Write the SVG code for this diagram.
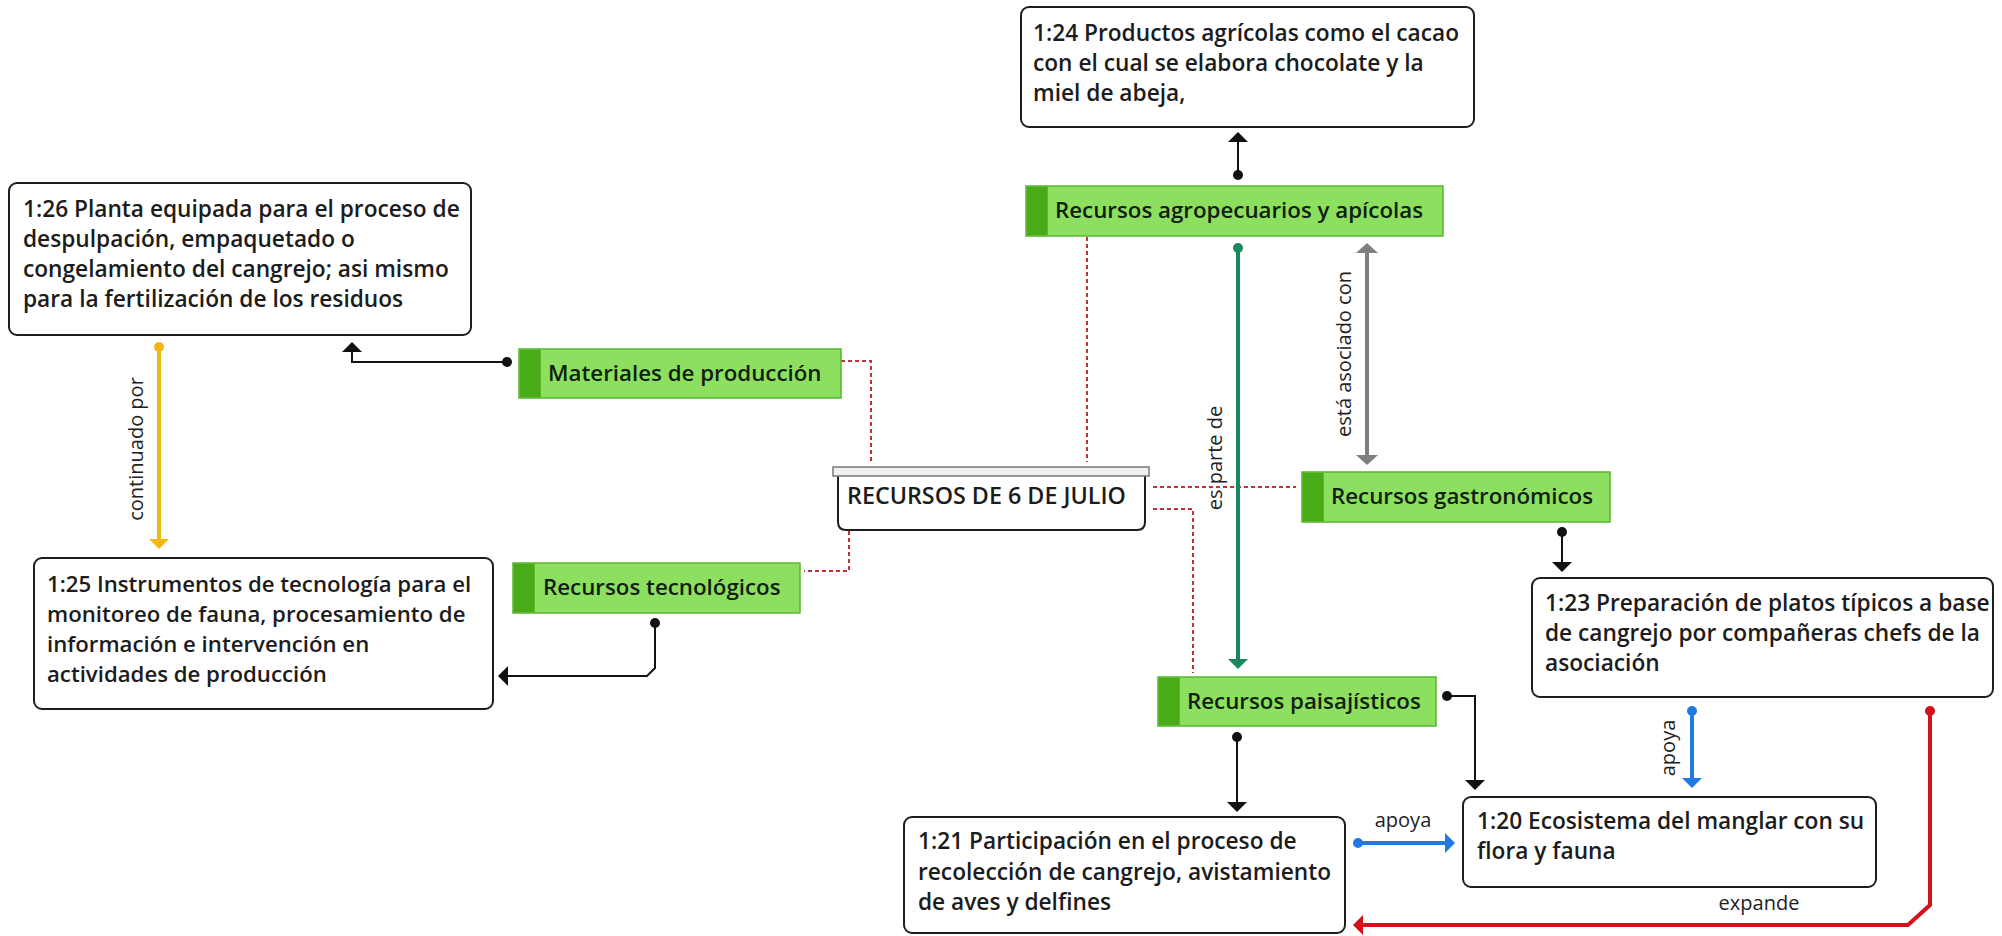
<svg xmlns="http://www.w3.org/2000/svg" width="2002" height="936" viewBox="0 0 2002 936">
<style>
.bg{fill:#ffffff}
.box{fill:#ffffff;stroke:#1e1e1e;stroke-width:2}
.btxt{font-family:"Open Sans","Noto Sans","Liberation Sans",sans-serif;font-size:22.7px;font-weight:600;fill:#1c1c1c}
.node{fill:#8de05f;stroke:#58b532;stroke-width:1.5}
.bar{fill:#4aab18}
.ntxt{font-family:"Open Sans","Noto Sans","Liberation Sans",sans-serif;font-size:22.3px;font-weight:600;fill:#102010}
.lbl{font-family:"Open Sans","Noto Sans","Liberation Sans",sans-serif;font-size:20px;font-weight:400;fill:#222}
.dot{fill:none;stroke:#c2323a;stroke-width:2;stroke-dasharray:4 3}
.c{fill:none;stroke-width:2}
.k{stroke:#111}
.g{stroke:#17895c;stroke-width:4}
.gr{stroke:#7f7f7f;stroke-width:4}
.y{stroke:#f3b713;stroke-width:4}
.b{stroke:#1f7be3;stroke-width:4}
.r{stroke:#d2111c;stroke-width:4}
</style>
<defs>
<marker id="ak" viewBox="0 0 10 20" refX="0" refY="10" markerWidth="10" markerHeight="20" markerUnits="userSpaceOnUse" orient="auto"><path d="M0,0 L10,10 L0,20 Z" fill="#111"/></marker>
<marker id="ag" viewBox="0 0 10 20" refX="0" refY="10" markerWidth="10" markerHeight="20" markerUnits="userSpaceOnUse" orient="auto"><path d="M0,0 L10,10 L0,20 Z" fill="#17895c"/></marker>
<marker id="agr" viewBox="0 0 10 22" refX="0" refY="11" markerWidth="10" markerHeight="22" markerUnits="userSpaceOnUse" orient="auto-start-reverse"><path d="M0,0 L10,11 L0,22 Z" fill="#7f7f7f"/></marker>
<marker id="ay" viewBox="0 0 10 20" refX="0" refY="10" markerWidth="10" markerHeight="20" markerUnits="userSpaceOnUse" orient="auto"><path d="M0,0 L10,10 L0,20 Z" fill="#f3b713"/></marker>
<marker id="ab" viewBox="0 0 10 20" refX="0" refY="10" markerWidth="10" markerHeight="20" markerUnits="userSpaceOnUse" orient="auto"><path d="M0,0 L10,10 L0,20 Z" fill="#1f7be3"/></marker>
<marker id="ar" viewBox="0 0 10 20" refX="0" refY="10" markerWidth="10" markerHeight="20" markerUnits="userSpaceOnUse" orient="auto"><path d="M0,0 L10,10 L0,20 Z" fill="#d2111c"/></marker>
<marker id="dk" viewBox="0 0 10 10" refX="5" refY="5" markerWidth="10" markerHeight="10" markerUnits="userSpaceOnUse"><circle cx="5" cy="5" r="5" fill="#111"/></marker>
<marker id="dg" viewBox="0 0 10 10" refX="5" refY="5" markerWidth="10" markerHeight="10" markerUnits="userSpaceOnUse"><circle cx="5" cy="5" r="5" fill="#17895c"/></marker>
<marker id="dy" viewBox="0 0 10 10" refX="5" refY="5" markerWidth="10" markerHeight="10" markerUnits="userSpaceOnUse"><circle cx="5" cy="5" r="5" fill="#f3b713"/></marker>
<marker id="db" viewBox="0 0 10 10" refX="5" refY="5" markerWidth="10" markerHeight="10" markerUnits="userSpaceOnUse"><circle cx="5" cy="5" r="5" fill="#1f7be3"/></marker>
<marker id="dr" viewBox="0 0 10 10" refX="5" refY="5" markerWidth="10" markerHeight="10" markerUnits="userSpaceOnUse"><circle cx="5" cy="5" r="5" fill="#d2111c"/></marker>
</defs>
<rect class="bg" x="0" y="0" width="2002" height="936"/>

<g id="connectors">
<path class="dot" d="M841,361 H871 V462"/>
<path class="dot" d="M1087,237 V462"/>
<path class="dot" d="M1153,487 H1296"/>
<path class="dot" d="M1153,509 H1193 V673"/>
<path class="dot" d="M849,531 V571 H804"/>
<path class="c k" d="M1238,175 V142" marker-start="url(#dk)" marker-end="url(#ak)"/>
<path class="c k" d="M507,362 H352 V352" marker-start="url(#dk)" marker-end="url(#ak)"/>
<path class="c k" d="M655,623 V668 L647,676 H508" marker-start="url(#dk)" marker-end="url(#ak)"/>
<path class="c k" d="M1562,532 V562" marker-start="url(#dk)" marker-end="url(#ak)"/>
<path class="c k" d="M1237,737 V802" marker-start="url(#dk)" marker-end="url(#ak)"/>
<path class="c k" d="M1447,696 H1475 V780" marker-start="url(#dk)" marker-end="url(#ak)"/>
<path class="c y" d="M159,347 V539" marker-start="url(#dy)" marker-end="url(#ay)"/>
<path class="c g" d="M1238,248 V659" marker-start="url(#dg)" marker-end="url(#ag)"/>
<path class="c gr" d="M1367,253 V455" marker-start="url(#agr)" marker-end="url(#agr)"/>
<path class="c b" d="M1692,711 V778" marker-start="url(#db)" marker-end="url(#ab)"/>
<path class="c b" d="M1358,843 H1445" marker-start="url(#db)" marker-end="url(#ab)"/>
<path class="c r" d="M1930,711 V905 L1908,925 H1363" marker-start="url(#dr)" marker-end="url(#ar)"/>
<text class="lbl" text-anchor="middle" dominant-baseline="central" transform="translate(135,449) rotate(-90)">continuado por</text>
<text class="lbl" text-anchor="middle" dominant-baseline="central" transform="translate(1214,458) rotate(-90)">es parte de</text>
<text class="lbl" text-anchor="middle" dominant-baseline="central" transform="translate(1343,354) rotate(-90)">está asociado con</text>
<text class="lbl" text-anchor="middle" dominant-baseline="central" transform="translate(1667,748) rotate(-90)">apoya</text>
<text class="lbl" text-anchor="middle" x="1403" y="827">apoya</text>
<text class="lbl" text-anchor="middle" x="1759" y="910">expande</text>
</g>

<g id="n-recursos">
<path class="box" d="M838,476 V522 Q838,530 846,530 H1137 Q1145,530 1145,522 V476"/>
<rect x="833" y="467" width="316" height="9" fill="#f0f0f0" stroke="#7a7a7a" stroke-width="1.5"/>
<text class="ntxt" style="font-size:23.3px;fill:#1c1c1c" x="847" y="504">RECURSOS DE 6 DE JULIO</text>
</g>

<g id="n-agro">
<rect class="node" x="1026" y="186" width="417" height="50"/>
<rect class="bar" x="1026.75" y="186.75" width="21" height="48.5"/>
<text class="ntxt" x="1055" y="218">Recursos agropecuarios y apícolas</text>
</g>

<g id="n-materiales">
<rect class="node" x="519" y="349" width="322" height="49"/>
<rect class="bar" x="519.75" y="349.75" width="21" height="47.5"/>
<text class="ntxt" x="548" y="381">Materiales de producción</text>
</g>

<g id="n-tecnologicos">
<rect class="node" x="513" y="563" width="287" height="50"/>
<rect class="bar" x="513.75" y="563.75" width="21" height="48.5"/>
<text class="ntxt" x="543" y="595">Recursos tecnológicos</text>
</g>

<g id="n-gastronomicos">
<rect class="node" x="1302" y="472" width="308" height="50"/>
<rect class="bar" x="1302.75" y="472.75" width="21" height="48.5"/>
<text class="ntxt" x="1331" y="504">Recursos gastronómicos</text>
</g>

<g id="n-paisajisticos">
<rect class="node" x="1158" y="677" width="278" height="49"/>
<rect class="bar" x="1158.75" y="677.75" width="21" height="47.5"/>
<text class="ntxt" x="1187" y="709">Recursos paisajísticos</text>
</g>

<g id="n-124">
<rect class="box" x="1021" y="7" width="453" height="120" rx="8"/>
<text class="btxt" x="1033" y="41">1:24 Productos agrícolas como el cacao</text>
<text class="btxt" x="1033" y="71">con el cual se elabora chocolate y la</text>
<text class="btxt" x="1033" y="101">miel de abeja,</text>
</g>

<g id="n-126">
<rect class="box" x="9" y="183" width="462" height="152" rx="8"/>
<text class="btxt" x="23" y="217">1:26 Planta equipada para el proceso de</text>
<text class="btxt" x="23" y="247">despulpación, empaquetado o</text>
<text class="btxt" x="23" y="277">congelamiento del cangrejo; asi mismo</text>
<text class="btxt" x="23" y="307">para la fertilización de los residuos</text>
</g>

<g id="n-125">
<rect class="box" x="34" y="558" width="459" height="151" rx="8"/>
<text class="btxt" style="font-size:22.2px" x="47" y="592">1:25 Instrumentos de tecnología para el</text>
<text class="btxt" style="font-size:22.2px" x="47" y="622">monitoreo de fauna, procesamiento de</text>
<text class="btxt" style="font-size:22.2px" x="47" y="652">información e intervención en</text>
<text class="btxt" style="font-size:22.2px" x="47" y="682">actividades de producción</text>
</g>

<g id="n-123">
<rect class="box" x="1532" y="578" width="461" height="119" rx="8"/>
<text class="btxt" x="1545" y="611">1:23 Preparación de platos típicos a base</text>
<text class="btxt" x="1545" y="641">de cangrejo por compañeras chefs de la</text>
<text class="btxt" x="1545" y="671">asociación</text>
</g>

<g id="n-120">
<rect class="box" x="1463" y="797" width="413" height="90" rx="8"/>
<text class="btxt" x="1477" y="829">1:20 Ecosistema del manglar con su</text>
<text class="btxt" x="1477" y="859">flora y fauna</text>
</g>

<g id="n-121">
<rect class="box" x="904" y="817" width="441" height="116" rx="8"/>
<text class="btxt" x="918" y="849">1:21 Participación en el proceso de</text>
<text class="btxt" x="918" y="880">recolección de cangrejo, avistamiento</text>
<text class="btxt" x="918" y="910">de aves y delfines</text>
</g>
</svg>
